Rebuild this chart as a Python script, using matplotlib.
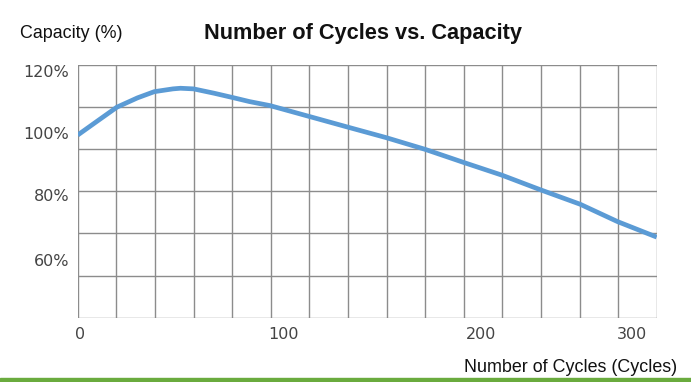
import matplotlib
matplotlib.use("Agg")
import matplotlib.pyplot as plt
import numpy as np

# cycles, capacity in %
cycles = [0, 10, 21, 32, 41, 51, 55, 62, 73, 83, 92, 103, 124, 145, 165, 186,
          207, 227, 248, 269, 289, 310]
capacity = [99.4, 103.7, 108.4, 111.4, 113.4, 114.3, 114.5, 114.3, 112.9, 111.5,
            110.2, 108.9, 105.4, 101.9, 98.6, 94.8, 90.5, 86.5, 81.7, 77.1, 71.5, 66.5]

x_tick_pos = [1, 110, 216, 297]
x_tick_labels = ["0", "100", "200", "300"]
y_tick_pos = [120, 100, 80, 59]
y_tick_labels = ["120%", "100%", "80%", "60%"]

x_lim = (0, 310)
y_lim = (40.5, 122.0)

fig = plt.figure(figsize=(6.91, 3.82), dpi=100)
ax = fig.add_axes([77.7 / 691, 1 - 317.7 / 382, 579 / 691, 252.7 / 382])

ax.plot(cycles, capacity, color="#5b9bd5", lw=3.4, solid_capstyle="butt",
        solid_joinstyle="round", zorder=3)

ax.set_xlim(*x_lim)
ax.set_ylim(*y_lim)

# grid: 15 columns, 6 rows
for gx in np.linspace(x_lim[0], x_lim[1], 16):
    ax.axvline(gx, color="#8c8c8c", lw=1.0, zorder=1)
for gy in np.linspace(y_lim[0], y_lim[1], 7):
    ax.axhline(gy, color="#8c8c8c", lw=1.0, zorder=1)

for s in ax.spines.values():
    s.set_visible(False)

ax.set_xticks(x_tick_pos)
ax.set_xticklabels(x_tick_labels)
ax.set_yticks(y_tick_pos)
ax.set_yticklabels(y_tick_labels)
ax.tick_params(length=0, labelsize=11.5, labelcolor="#444444")
ax.tick_params(axis="x", pad=7)
ax.tick_params(axis="y", pad=6)
for lab in ax.get_xticklabels() + ax.get_yticklabels():
    lab.set_fontfamily("DejaVu Sans")

fig.text(363 / 691, 1 - 33 / 382, "Number of Cycles vs. Capacity", ha="center",
         va="center", fontsize=15.7, fontweight="bold", family="Liberation Sans",
         color="#111111")
fig.text(20 / 691, 1 - 33 / 382, "Capacity (%)", ha="left", va="center",
         fontsize=12.9, family="Liberation Sans", color="#111111")
fig.text(677 / 691, 1 - 367 / 382, "Number of Cycles (Cycles)", ha="right",
         va="center", fontsize=12.9, family="Liberation Sans", color="#111111")

# green strip along the bottom edge
fig.patches.append(plt.Rectangle((0, 0), 1, 4 / 382, transform=fig.transFigure,
                                 color="#6aab3e", zorder=0))

fig.savefig("out.png", dpi=100)
